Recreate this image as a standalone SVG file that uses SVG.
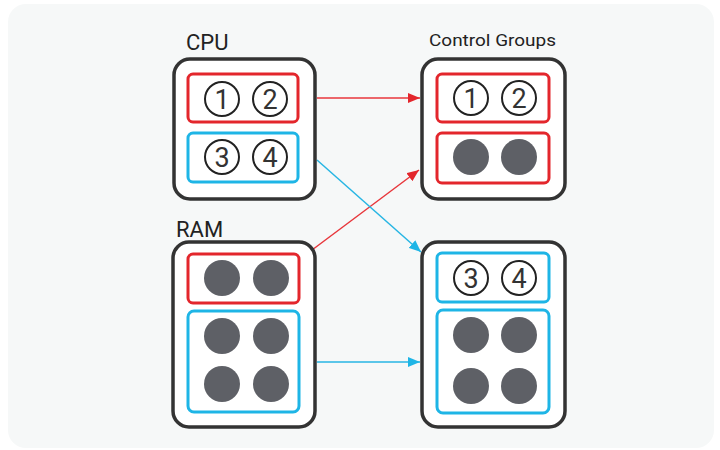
<svg xmlns="http://www.w3.org/2000/svg" width="720" height="450" viewBox="0 0 720 450">
<defs>
<style>
.outer{fill:#fff;stroke:#333;stroke-width:3.5}
.red{fill:none;stroke:#e3262c;stroke-width:3}
.blue{fill:none;stroke:#1eb5e6;stroke-width:3}
.num{fill:#fff;stroke:#222;stroke-width:2}
.dot{fill:#5e6066}
.nt{font-family:Roboto,"Liberation Sans",sans-serif;font-size:27px;fill:#333;text-anchor:middle}
.lbl{font-family:Roboto,"Liberation Sans",sans-serif;fill:#222}
.cr{stroke:#e8373c;stroke-width:1.5;fill:none}
.cb{stroke:#27b6e4;stroke-width:1.5;fill:none}
</style>
<marker id="ar" viewBox="0 0 12 10" refX="12" refY="5" markerWidth="12" markerHeight="10" markerUnits="userSpaceOnUse" orient="auto"><path d="M0,0 L12,5 L0,10 Z" fill="#e3262c"/></marker>
<marker id="ab" viewBox="0 0 12 10" refX="12" refY="5" markerWidth="12" markerHeight="10" markerUnits="userSpaceOnUse" orient="auto"><path d="M0,0 L12,5 L0,10 Z" fill="#1eb5e6"/></marker>
</defs>
<rect x="0" y="0" width="720" height="450" fill="#fff"/>
<rect x="8" y="4" width="706" height="444" rx="18" fill="#f6f8f8"/>

<g id="connectors">
<line class="cr" x1="317" y1="98" x2="420" y2="98" marker-end="url(#ar)"/>
<line class="cr" x1="312" y1="250" x2="419" y2="170" marker-end="url(#ar)"/>
<line class="cb" x1="317" y1="160" x2="421" y2="252" marker-end="url(#ab)"/>
<line class="cb" x1="317" y1="362" x2="420" y2="362" marker-end="url(#ab)"/>
</g>

<g id="cpu">
<text class="lbl" x="186" y="50" font-size="22">CPU</text>
<rect class="outer" x="174" y="59" width="141" height="140" rx="16"/>
<rect class="red" x="188" y="74" width="110" height="48" rx="5"/>
<rect class="blue" x="188" y="133" width="110" height="49" rx="5"/>
<circle class="num" cx="222" cy="99" r="17"/><text class="nt" x="222" y="109">1</text>
<circle class="num" cx="270" cy="99" r="17"/><text class="nt" x="270" y="109">2</text>
<circle class="num" cx="222" cy="157" r="17"/><text class="nt" x="222" y="167">3</text>
<circle class="num" cx="270" cy="157" r="17"/><text class="nt" x="270" y="167">4</text>
</g>

<g id="ram">
<text class="lbl" x="176" y="237" font-size="22">RAM</text>
<rect class="outer" x="173" y="242" width="142" height="185" rx="16"/>
<rect class="red" x="188" y="254" width="111" height="49" rx="5"/>
<rect class="blue" x="188" y="311" width="111" height="101" rx="6"/>
<circle class="dot" cx="222" cy="278" r="18"/>
<circle class="dot" cx="271" cy="278" r="18"/>
<circle class="dot" cx="222" cy="336" r="18"/>
<circle class="dot" cx="271" cy="336" r="18"/>
<circle class="dot" cx="222" cy="384" r="18"/>
<circle class="dot" cx="271" cy="384" r="18"/>
</g>

<g id="cg-top">
<text class="lbl" x="429" y="46" font-size="17" textLength="127" lengthAdjust="spacingAndGlyphs">Control Groups</text>
<rect class="outer" x="422" y="59" width="143" height="140" rx="16"/>
<rect class="red" x="437" y="74" width="112" height="48" rx="5"/>
<rect class="red" x="437" y="133" width="112" height="50" rx="5"/>
<circle class="num" cx="471" cy="98" r="17"/><text class="nt" x="471" y="108">1</text>
<circle class="num" cx="519" cy="98" r="17"/><text class="nt" x="519" y="108">2</text>
<circle class="dot" cx="471" cy="157" r="18"/>
<circle class="dot" cx="519" cy="157" r="18"/>
</g>

<g id="cg-bottom">
<rect class="outer" x="422" y="242" width="143" height="185" rx="16"/>
<rect class="blue" x="437" y="253" width="112" height="49" rx="5"/>
<rect class="blue" x="437" y="310" width="112" height="103" rx="6"/>
<circle class="num" cx="471" cy="278" r="17"/><text class="nt" x="471" y="288">3</text>
<circle class="num" cx="519" cy="278" r="17"/><text class="nt" x="519" y="288">4</text>
<circle class="dot" cx="471" cy="335" r="18"/>
<circle class="dot" cx="519" cy="335" r="18"/>
<circle class="dot" cx="471" cy="386" r="18"/>
<circle class="dot" cx="519" cy="386" r="18"/>
</g>
</svg>
